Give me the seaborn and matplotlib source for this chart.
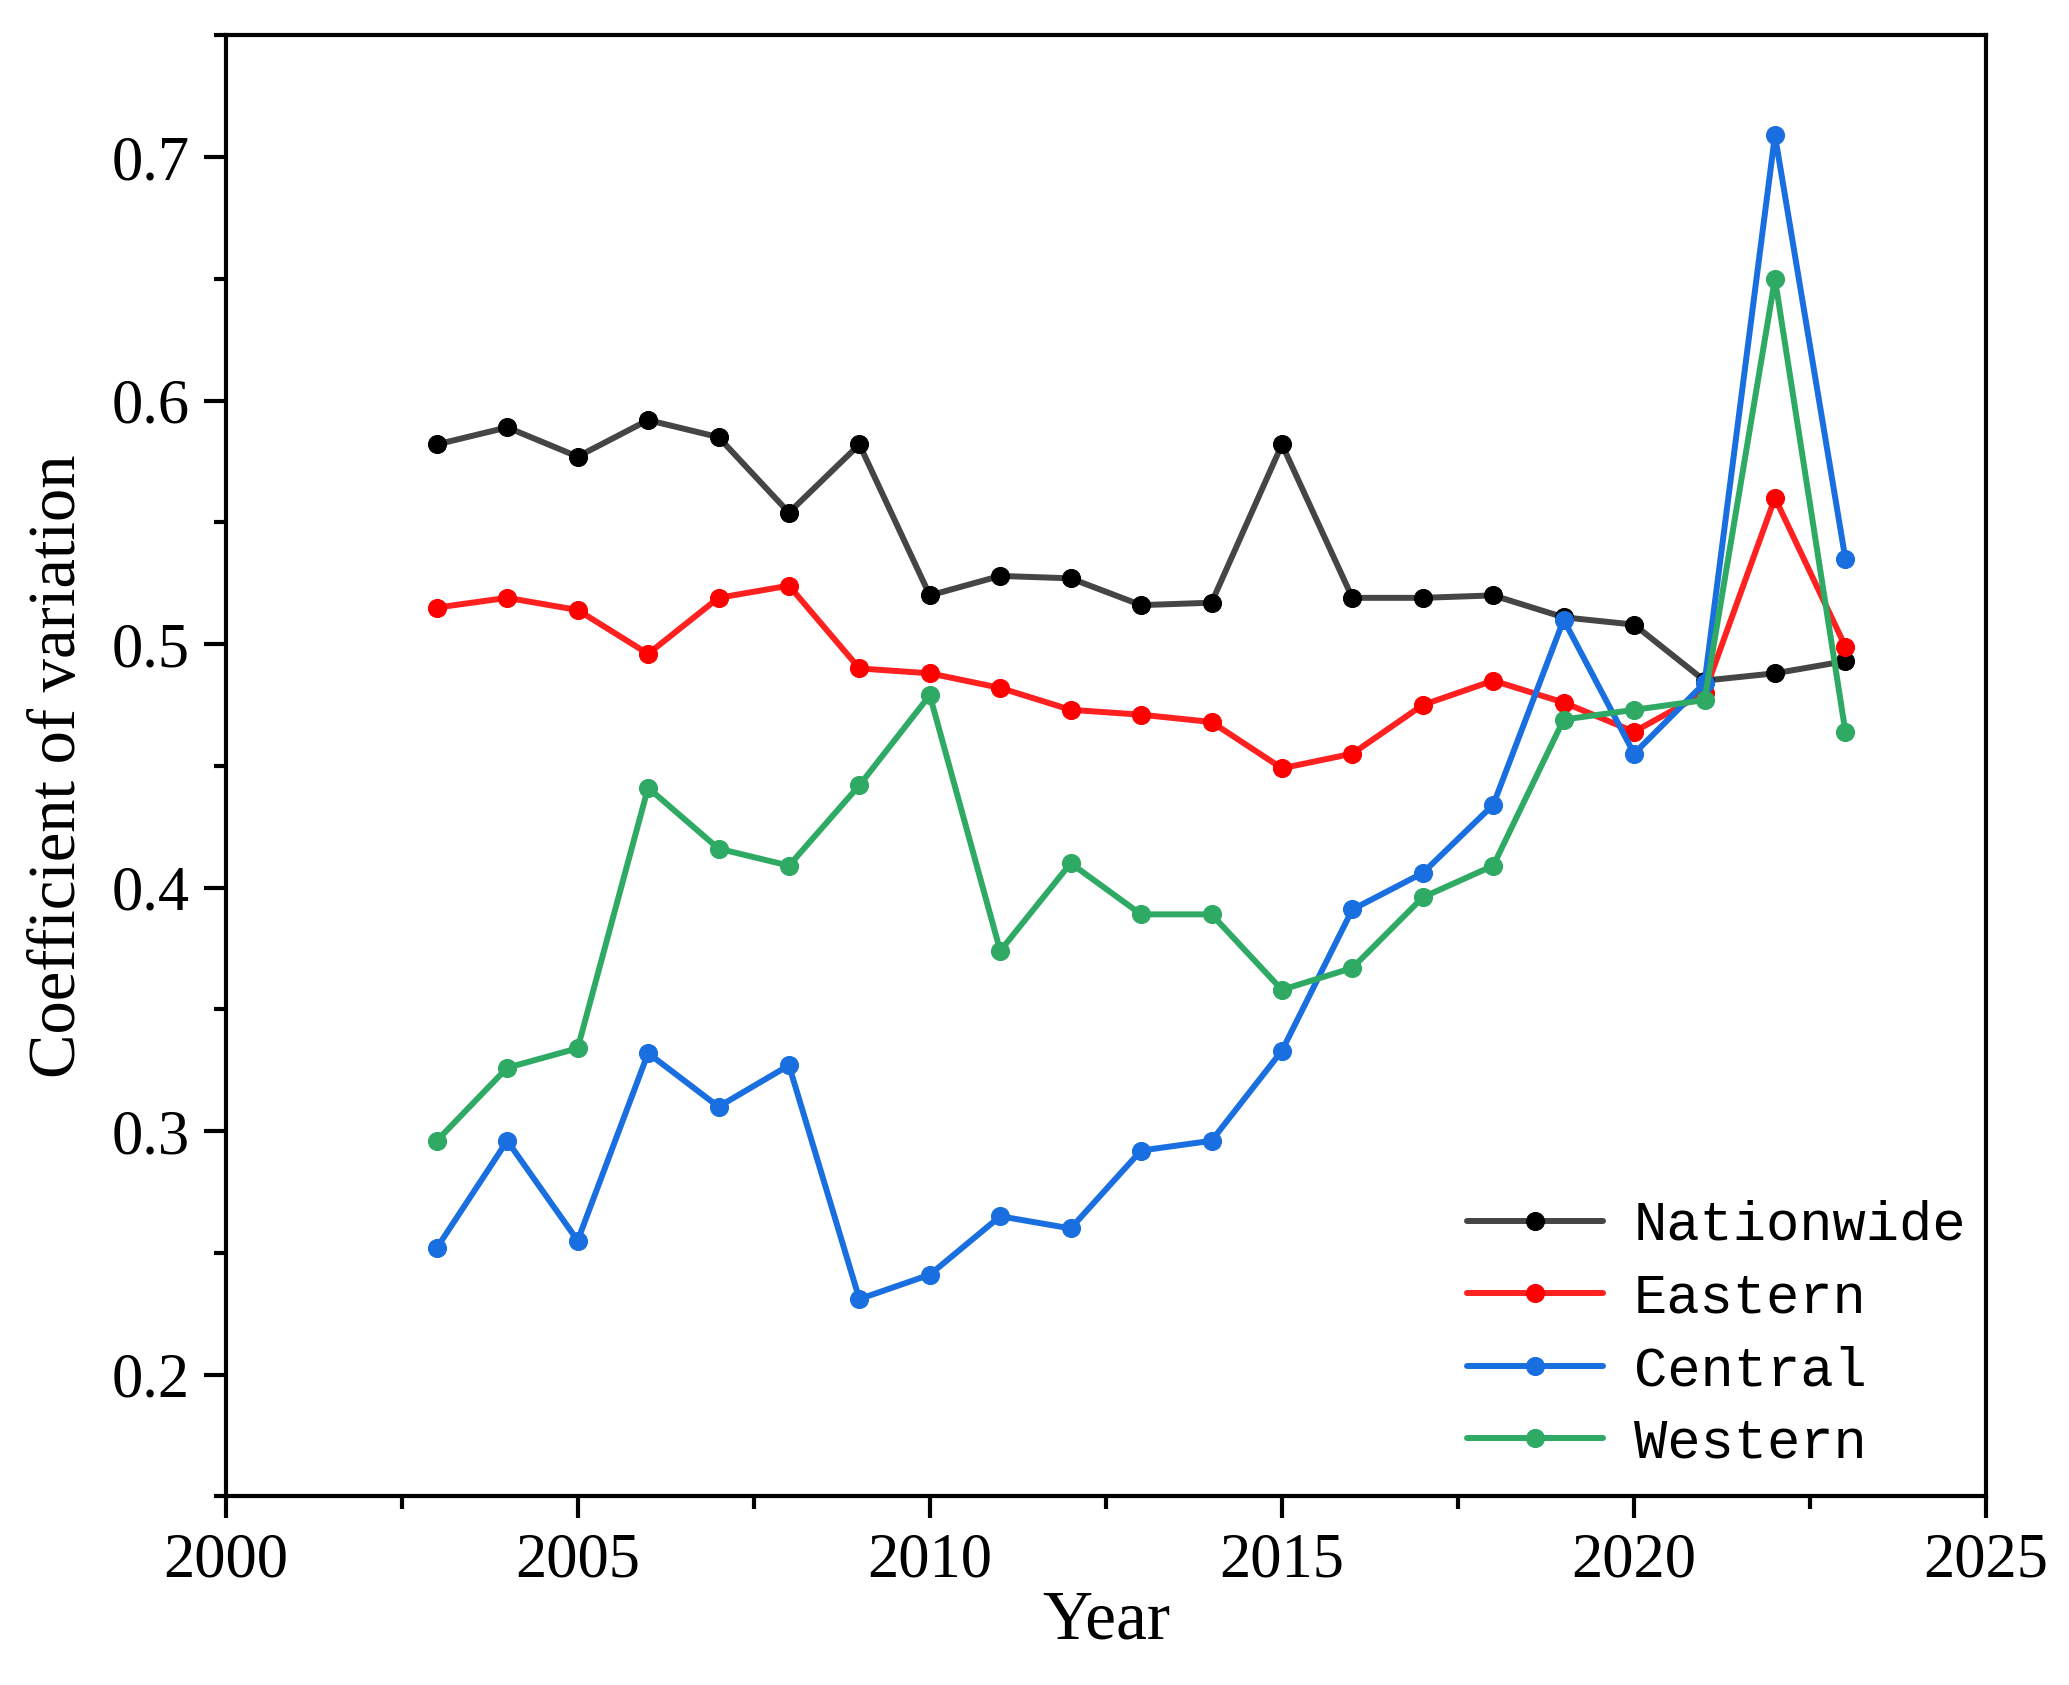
import numpy as np
import pandas as pd
import seaborn as sns
import matplotlib.pyplot as plt
from matplotlib.ticker import MultipleLocator

years = list(range(2003, 2024))

nationwide = [0.582, 0.589, 0.577, 0.592, 0.585, 0.554, 0.582, 0.520, 0.528, 0.527,
              0.516, 0.517, 0.582, 0.519, 0.519, 0.520, 0.511, 0.508, 0.485, 0.488, 0.493]
eastern = [0.515, 0.519, 0.514, 0.496, 0.519, 0.524, 0.490, 0.488, 0.482, 0.473,
           0.471, 0.468, 0.449, 0.455, 0.475, 0.485, 0.476, 0.464, 0.480, 0.560, 0.499]
central = [0.252, 0.296, 0.255, 0.332, 0.310, 0.327, 0.231, 0.241, 0.265, 0.260,
           0.292, 0.296, 0.333, 0.391, 0.406, 0.434, 0.510, 0.455, 0.484, 0.709, 0.535]
western = [0.296, 0.326, 0.334, 0.441, 0.416, 0.409, 0.442, 0.479, 0.374, 0.410,
           0.389, 0.389, 0.358, 0.367, 0.396, 0.409, 0.469, 0.473, 0.477, 0.650, 0.464]

series_names = ["Nationwide", "Eastern", "Central", "Western"]
line_colors = ["#454545", "#ff2020", "#1a6fe0", "#2eaa64"]
marker_colors = ["#000000", "#ff0000", "#1a6fe0", "#2eaa64"]

df = pd.DataFrame({"Year": years, "Nationwide": nationwide, "Eastern": eastern,
                   "Central": central, "Western": western})
long_df = df.melt(id_vars="Year", var_name="Region", value_name="CV")

sns.set_style("ticks")
plt.rcParams['font.family'] = ['Liberation Serif', 'DejaVu Serif']
plt.rcParams['text.color'] = 'black'
plt.rcParams['axes.labelcolor'] = 'black'
plt.rcParams['xtick.color'] = 'black'
plt.rcParams['ytick.color'] = 'black'
plt.rcParams['axes.edgecolor'] = 'black'

fig = plt.figure(figsize=(20.69, 16.85), dpi=100)
ax = fig.add_axes([0.109, 0.112, 0.851, 0.867])

for name, lc, mc in zip(series_names, line_colors, marker_colors):
    sub = long_df[long_df["Region"] == name]
    sns.lineplot(data=sub, x="Year", y="CV", ax=ax, color=lc, linewidth=4.3,
                 marker="o", markersize=13, markerfacecolor=mc, markeredgecolor=mc,
                 label=name)

ax.set_xlim(2000, 2025)
ax.set_ylim(0.15, 0.75)
ax.xaxis.set_major_locator(MultipleLocator(5))
ax.xaxis.set_minor_locator(MultipleLocator(2.5))
ax.yaxis.set_major_locator(MultipleLocator(0.1))
ax.yaxis.set_minor_locator(MultipleLocator(0.05))
ax.set_yticks([0.2, 0.3, 0.4, 0.5, 0.6, 0.7])
ax.set_yticklabels(["0.2", "0.3", "0.4", "0.5", "0.6", "0.7"])

ax.tick_params(which="major", direction="out", length=16, width=3, labelsize=45,
               top=False, right=False, pad=10)
ax.tick_params(which="minor", direction="out", length=9, width=3,
               top=False, right=False)
for sp in ax.spines.values():
    sp.set_linewidth(3)
    sp.set_visible(True)

ax.set_xlabel("Year", fontsize=50, labelpad=0)
ax.set_ylabel("Coefficient of variation", fontsize=48, labelpad=16)

leg = ax.legend(loc="lower right", frameon=False, handlelength=2.45, handletextpad=0.55,
                labelspacing=0.37, bbox_to_anchor=(1.017, -0.016),
                prop={"family": ["Liberation Mono", "DejaVu Sans Mono"], "size": 40})

fig.savefig("out.png", dpi=100, facecolor="white")
